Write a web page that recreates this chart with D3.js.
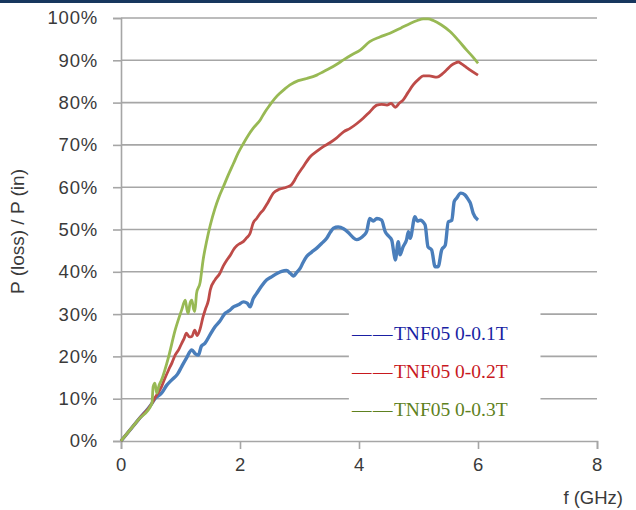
<!DOCTYPE html>
<html lang="en">
<head>
<meta charset="UTF-8">
<title>P(loss)/P(in) vs frequency</title>
<script src="https://d3js.org/d3.v7.min.js"></script>
<style>
    body { margin: 0; background: #ffffff; }
    svg { display: block; }
    .tick text { font-family: "Liberation Sans", Arial, sans-serif; font-size: 18.5px; letter-spacing: 0.8px; fill: #3a3a3a; }
</style>
</head>
<body>
<svg width="636" height="510"></svg>
<script>
// frequency (GHz) / loss ratio (%) pairs
const blue01 = [
    [0,0],[0.29,5],[0.52,8.9],[0.57,10],[0.68,11.3],[0.77,13.2],[0.85,14.4],[0.95,15.8],[1.02,17.6],[1.1,19.6],[1.19,21.5],[1.25,20.6],
    [1.30,20.3],[1.35,22.4],[1.41,23.1],[1.5,25.2],[1.58,27.0],[1.66,28.3],[1.75,30.2],[1.82,30.8],[1.89,31.7],[1.97,32.2],[2.06,32.9],
    [2.12,32.6],[2.17,31.7],[2.22,33.6],[2.28,34.9],[2.36,36.6],[2.45,38.1],[2.53,38.8],[2.62,39.6],[2.7,40.1],[2.78,40.3],[2.85,39.6],
    [2.90,39.0],[2.95,39.8],[3.01,40.8],[3.06,42.2],[3.12,43.6],[3.2,44.6],[3.29,45.6],[3.37,46.7],[3.46,48.0],[3.52,49.4],[3.57,50.3],
    [3.65,50.6],[3.74,50.2],[3.82,49.3],[3.90,48.1],[3.96,47.6],[4.02,47.9],[4.08,48.6],[4.13,49.6],[4.18,52.6],[4.24,52.0],[4.30,52.6],
    [4.38,52.2],[4.44,49.5],[4.5,48.4],[4.55,47.5],[4.58,45.0],[4.61,42.8],[4.66,47.1],[4.69,44.0],[4.74,45.9],[4.8,47.6],[4.83,49.5],
    [4.86,47.9],[4.94,53.0],[4.98,52.0],[5.03,52.2],[5.11,51.1],[5.16,45.9],[5.22,45.2],[5.28,41.2],[5.33,41.2],[5.39,45.2],[5.45,46.3],
    [5.50,51.8],[5.56,52.2],[5.60,56.6],[5.64,57.4],[5.71,58.6],[5.78,58.2],[5.84,57.0],[5.87,56.3],[5.92,53.8],[6.0,52.2]
];
const red02 = [
    [0,0],[0.29,5],[0.52,8.9],[0.57,10.2],[0.68,12.8],[0.74,14.9],[0.80,16.8],[0.86,18.6],[0.91,20.3],[0.97,21.6],[1.02,23.1],[1.06,24.2],
    [1.10,25.5],[1.15,24.6],[1.19,24.7],[1.24,26.2],[1.28,24.9],[1.33,26.5],[1.38,29.4],[1.42,31.2],[1.47,33.3],[1.50,35.7],[1.58,38.1],
    [1.66,39.6],[1.72,41.4],[1.78,42.8],[1.84,44.0],[1.89,45.2],[1.95,46.2],[2.0,46.7],[2.06,47.2],[2.11,48.0],[2.17,49.1],[2.22,51.5],
    [2.28,52.6],[2.34,53.8],[2.39,54.6],[2.47,56.4],[2.56,58.6],[2.66,59.5],[2.78,60.0],[2.86,60.5],[2.92,61.7],[2.95,62.5],[3.05,64.6],
    [3.18,67.2],[3.3,68.6],[3.4,69.6],[3.51,70.5],[3.62,71.6],[3.74,73.1],[3.85,73.9],[3.96,75.0],[4.07,76.3],[4.18,77.8],[4.30,79.4],
    [4.38,79.6],[4.47,79.4],[4.54,79.8],[4.61,78.9],[4.68,79.9],[4.74,80.6],[4.82,82.3],[4.91,84.2],[5.0,85.5],[5.08,86.3],[5.18,86.3],
    [5.31,86.0],[5.4,86.8],[5.47,87.7],[5.55,88.8],[5.61,89.3],[5.67,89.6],[5.73,89.1],[5.8,88.4],[5.87,87.7],[6.0,86.5]
];
const green03 = [
    [0,0],[0.29,5],[0.52,8.9],[0.54,12.8],[0.57,13.7],[0.60,11.3],[0.64,13.2],[0.68,14.4],[0.80,19.9],[0.91,26.2],[1.02,31.0],[1.08,33.3],
    [1.11,31.0],[1.13,30.2],[1.16,32.6],[1.19,33.3],[1.22,31.2],[1.24,30.6],[1.27,34.9],[1.33,37.5],[1.38,42.8],[1.44,47.3],[1.50,51.0],
    [1.58,55.0],[1.65,57.8],[1.72,60.1],[1.8,62.8],[1.89,65.6],[1.97,68.1],[2.06,70.4],[2.14,72.3],[2.22,73.9],[2.34,75.9],[2.42,77.8],
    [2.50,79.4],[2.58,80.9],[2.67,82.2],[2.75,83.2],[2.84,84.2],[2.98,85.2],[3.12,85.7],[3.29,86.5],[3.40,87.3],[3.51,88.1],[3.62,89.0],
    [3.74,90.1],[3.88,91.3],[4.02,92.4],[4.18,94.4],[4.35,95.5],[4.52,96.4],[4.70,97.6],[4.86,98.7],[4.98,99.4],[5.08,99.8],[5.16,99.8],
    [5.25,99.4],[5.38,98.4],[5.53,96.8],[5.67,94.7],[5.81,92.4],[5.92,90.7],[6.0,89.3]
];

const seriesNames = ["TNF05 0-0.1T", "TNF05 0-0.2T", "TNF05 0-0.3T"];
const seriesData = [blue01, red02, green03];
const lineColors = ["#4a7ebb", "#be4b48", "#98b954"];
const legendColors = ["#1a1fa3", "#c8191e", "#5e8120"];
const xTicks = [0, 2, 4, 6, 8];
const yTicks = [0, 10, 20, 30, 40, 50, 60, 70, 80, 90, 100];

const svg = d3.select("svg");
const margin = { top: 18, left: 121, right: 39, bottom: 69 };
const width = 636 - margin.left - margin.right;
const height = 510 - margin.top - margin.bottom;

// dark strip along the top edge
svg.append("rect").attr("x", 0).attr("y", 0).attr("width", 636).attr("height", 3).attr("fill", "#17375e");

const g = svg.append("g").attr("transform", `translate(${margin.left},${margin.top})`);

const x = d3.scaleLinear().domain([0, 8]).range([0, width]);
const y = d3.scaleLinear().domain([0, 100]).range([height, 0]);

// gridlines
g.append("g")
    .selectAll("line")
    .data(yTicks.slice(1))
    .join("line")
    .attr("x1", 0).attr("x2", width)
    .attr("y1", d => y(d)).attr("y2", d => y(d))
    .attr("stroke", "#a6a6a6").attr("stroke-width", 1.6);

// axes
const yAxis = g.append("g")
    .call(d3.axisLeft(y).tickValues(yTicks).tickFormat(d => d + "%").tickSize(8).tickPadding(15));
const xAxis = g.append("g")
    .attr("transform", `translate(0,${height})`)
    .call(d3.axisBottom(x).tickValues(xTicks).tickSize(8).tickPadding(9));
[yAxis, xAxis].forEach(a => {
    a.select(".domain").attr("stroke", "#a6a6a6").attr("stroke-width", 1.6);
    a.selectAll(".tick line").attr("stroke", "#a6a6a6").attr("stroke-width", 1.6);
});

// curves
const line = d3.line()
    .x(d => x(d[0]))
    .y(d => y(d[1]))
    .curve(d3.curveMonotoneX);

g.selectAll("path.series")
    .data(seriesData)
    .join("path")
    .attr("class", "series")
    .attr("fill", "none")
    .attr("stroke", (d, i) => lineColors[i])
    .attr("stroke-width", (d, i) => i === 0 ? 3.4 : 2.8)
    .attr("stroke-linejoin", "round")
    .attr("d", line);

// legend box (covers gridlines)
const legend = g.append("g").attr("transform", `translate(${x(3.83)},${y(32.5)})`);
legend.append("rect")
    .attr("width", x(7.05) - x(3.83))
    .attr("height", y(3.5) - y(32.5))
    .attr("fill", "#ffffff");
const items = legend.selectAll("text")
    .data(seriesNames)
    .join("text")
    .attr("x", 3)
    .attr("y", (d, i) => 36 + i * 38)
    .attr("fill", (d, i) => legendColors[i])
    .attr("font-family", "'Liberation Serif', 'DejaVu Serif', serif")
    .attr("font-size", "19.5px");
items.append("tspan").attr("letter-spacing", "1.5px").text("\u2014\u2014");
items.append("tspan").text(d => d);

// axis titles
svg.append("text")
    .attr("transform", `translate(24,${margin.top + height / 2 + 2}) rotate(-90)`)
    .attr("text-anchor", "middle")
    .attr("font-family", "'Liberation Sans', Arial, sans-serif")
    .attr("font-size", "19px")
    .attr("fill", "#3a3a3a")
    .text("P (loss) / P (in)");

svg.append("text")
    .attr("x", 623)
    .attr("y", 504)
    .attr("text-anchor", "end")
    .attr("font-family", "'Liberation Sans', Arial, sans-serif")
    .attr("font-size", "18.5px")
    .attr("fill", "#3a3a3a")
    .text("f (GHz)");
</script>
</body>
</html>
